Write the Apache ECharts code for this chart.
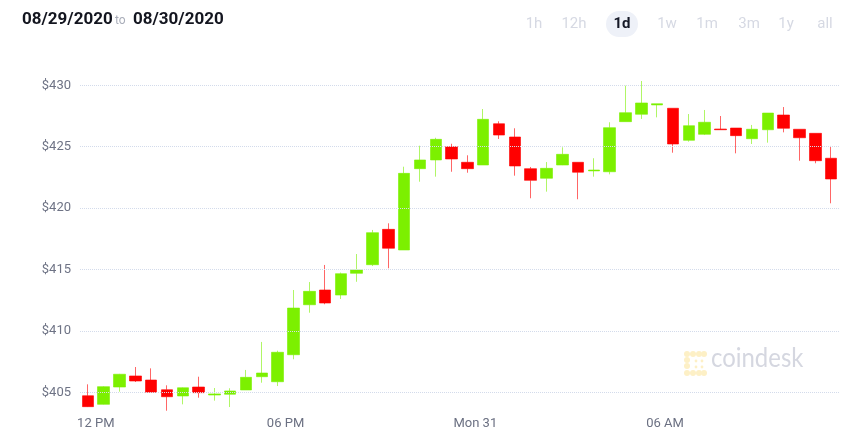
<!DOCTYPE html>
<html>
<head>
<meta charset="utf-8">
<script src="https://cdn.jsdelivr.net/npm/echarts@6/dist/echarts.min.js"></script>
<style>
  html, body { margin: 0; padding: 0; background: #fff; }
  #chart { width: 862px; height: 438px; }
</style>
</head>
<body>
<div id="chart"></div>
<script>
// 30-minute buckets, 08/30 11:30 -> 08/31 11:00
const times = [
  '30 11:30', '30 12:00', '30 12:30', '30 13:00', '30 13:30', '30 14:00', '30 14:30', '30 15:00',
  '30 15:30', '30 16:00', '30 16:30', '30 17:00', '30 17:30', '30 18:00', '30 18:30', '30 19:00',
  '30 19:30', '30 20:00', '30 20:30', '30 21:00', '30 21:30', '30 22:00', '30 22:30', '30 23:00',
  '30 23:30', '31 00:00', '31 00:30', '31 01:00', '31 01:30', '31 02:00', '31 02:30', '31 03:00',
  '31 03:30', '31 04:00', '31 04:30', '31 05:00', '31 05:30', '31 06:00', '31 06:30', '31 07:00',
  '31 07:30', '31 08:00', '31 08:30', '31 09:00', '31 09:30', '31 10:00', '31 10:30', '31 11:00'
];
const openP = [
  404.72, 404.02, 405.43, 406.33, 406.00, 405.21, 404.70, 405.43,
  404.78, 404.84, 405.19, 406.27, 405.86, 408.06, 412.13, 413.33,
  412.92, 414.69, 415.39, 418.27, 416.59, 423.21, 423.92, 425.00,
  423.73, 423.51, 426.87, 425.79, 423.21, 422.43, 423.51, 423.73,
  423.03, 422.96, 427.04, 427.64, 428.40, 428.13, 425.52, 426.01,
  426.44, 426.52, 425.65, 426.38, 427.58, 426.42, 426.09, 424.06
];
const closeP = [
  403.83, 405.46, 406.47, 405.92, 405.00, 404.64, 405.37, 404.97,
  404.87, 405.11, 406.22, 406.57, 408.26, 411.86, 413.22, 412.27,
  414.66, 414.96, 418.00, 416.73, 422.83, 423.92, 425.60, 424.00,
  423.21, 427.23, 425.95, 423.43, 422.26, 423.24, 424.38, 422.92,
  423.10, 426.55, 427.77, 428.56, 428.50, 425.22, 426.71, 426.99,
  426.38, 425.90, 426.42, 427.74, 426.50, 425.73, 423.86, 422.37
];
const lowP = [
  403.80, 404.00, 405.05, 405.84, 404.98, 403.50, 404.02, 404.56,
  404.32, 403.80, 405.19, 405.78, 405.51, 407.69, 411.48, 412.17,
  412.60, 414.00, 415.28, 415.10, 416.59, 422.15, 422.56, 422.96,
  422.88, 423.51, 425.63, 422.64, 420.80, 421.34, 423.50, 420.72,
  422.56, 422.75, 427.04, 427.26, 427.39, 424.51, 425.41, 425.95,
  426.38, 424.46, 425.22, 425.33, 426.17, 423.86, 423.65, 420.39
];
const highP = [
  405.65, 405.50, 406.50, 407.06, 406.95, 405.57, 405.40, 406.27,
  405.35, 405.33, 406.82, 409.10, 408.39, 413.33, 413.98, 415.37,
  414.75, 416.26, 418.22, 418.76, 423.37, 425.08, 425.73, 425.24,
  424.30, 428.07, 427.07, 426.50, 423.35, 423.75, 424.95, 423.73,
  424.06, 426.99, 429.97, 430.35, 428.50, 428.13, 427.66, 427.99,
  427.50, 426.52, 426.77, 427.74, 428.23, 426.42, 426.09, 425.06
];
const tickHours = [0, 6, 12, 18];
const tickLabels = ['12 PM', '06 PM', 'Mon 31', '06 AM'];
const ranges = ['1h', '12h', '1d', '1w', '1m', '3m', '1y', 'all'];
const rangeX = [534, 574, 622, 667, 707, 749, 786, 825];

// hours since 12 PM on the 30th, at the middle of each bucket
function toHours(s) {
  const day = parseInt(s.slice(0, 2), 10);
  const h = parseInt(s.slice(3, 5), 10);
  const m = parseInt(s.slice(6, 8), 10);
  return (day - 30) * 24 + h + m / 60 - 12 + 0.25;
}

const candles = times.map((t, i) => [toHours(t), openP[i], closeP[i], lowP[i], highP[i]]);

const chart = echarts.init(document.getElementById('chart'));

const rangeGraphics = [];
ranges.forEach((r, i) => {
  const active = r === '1d';
  if (active) {
    rangeGraphics.push({
      type: 'rect',
      shape: { x: rangeX[i] - 16, y: 11, width: 32, height: 26, r: 13 },
      style: { fill: '#eef1f8' }
    });
  }
  rangeGraphics.push({
    type: 'text',
    style: {
      text: r, x: rangeX[i], y: 24,
      textAlign: 'center', textVerticalAlign: 'middle',
      font: (active ? 'bold ' : '') + '15px Roboto',
      fill: active ? '#151826' : '#d6d9e3'
    }
  });
});

const logoDots = [
  [687, 354, 3], [693, 354, 3], [699, 354, 3], [704, 354, 3],
  [687, 360, 3], [687, 366, 3],
  [687, 373, 3], [693, 373, 3], [699, 373, 3], [704, 373, 3],
  [696, 361, 1.4], [702, 361, 1.4], [696, 367, 1.4], [702, 367, 1.4]
];

const option = {
  animation: false,
  backgroundColor: '#fff',
  grid: { left: 80, right: 23, top: 85.3, bottom: 45.7 },
  xAxis: {
    type: 'value',
    min: -0.5,
    max: 23.5,
    axisLine: { show: false },
    axisTick: { show: false },
    splitLine: { show: false },
    axisLabel: {
      customValues: tickHours,
      formatter: (v) => tickLabels[tickHours.indexOf(v)] || '',
      color: '#6b7082',
      fontSize: 13,
      fontFamily: 'Roboto',
      margin: 25
    }
  },
  yAxis: {
    type: 'value',
    min: 405,
    max: 430,
    interval: 5,
    z: 5,
    axisLine: { show: false },
    axisTick: { show: false },
    axisLabel: {
      formatter: '${value}',
      color: '#6e7385',
      fontSize: 13,
      fontFamily: 'Roboto',
      margin: 9
    },
    splitLine: {
      lineStyle: { color: '#d3dbeb', type: 'dotted', width: 1 }
    }
  },
  series: [{
    type: 'candlestick',
    clip: false,
    barWidth: 12,
    encode: { x: 0, y: [1, 2, 3, 4] },
    itemStyle: {
      color: '#7cf000',
      color0: '#ff0000',
      borderColor: 'rgba(124,240,0,0.6)',
      borderColor0: 'rgba(255,0,0,0.6)',
      borderWidth: 1
    },
    emphasis: { disabled: true },
    data: candles
  }],
  graphic: [
    {
      type: 'text',
      style: { text: '08/29/2020', x: 22, y: 20, textVerticalAlign: 'middle', font: 'bold 17px Roboto', fill: '#13151f' }
    },
    {
      type: 'text',
      style: { text: 'to', x: 115, y: 21, textVerticalAlign: 'middle', font: '12px Roboto', fill: '#a9adb9' }
    },
    {
      type: 'text',
      style: { text: '08/30/2020', x: 133, y: 20, textVerticalAlign: 'middle', font: 'bold 17px Roboto', fill: '#13151f' }
    },
    ...rangeGraphics,
    ...logoDots.map(d => ({
      type: 'circle',
      shape: { cx: d[0], cy: d[1], r: d[2] },
      style: { fill: '#fdf0c6' }
    })),
    {
      type: 'text',
      x: 711, y: 372,
      scaleX: 0.92,
      style: { text: 'coindesk', x: 0, y: 0, textVerticalAlign: 'bottom', font: '26px Lato', fill: '#d5d7e0' }
    }
  ]
};

chart.setOption(option);
</script>
</body>
</html>
